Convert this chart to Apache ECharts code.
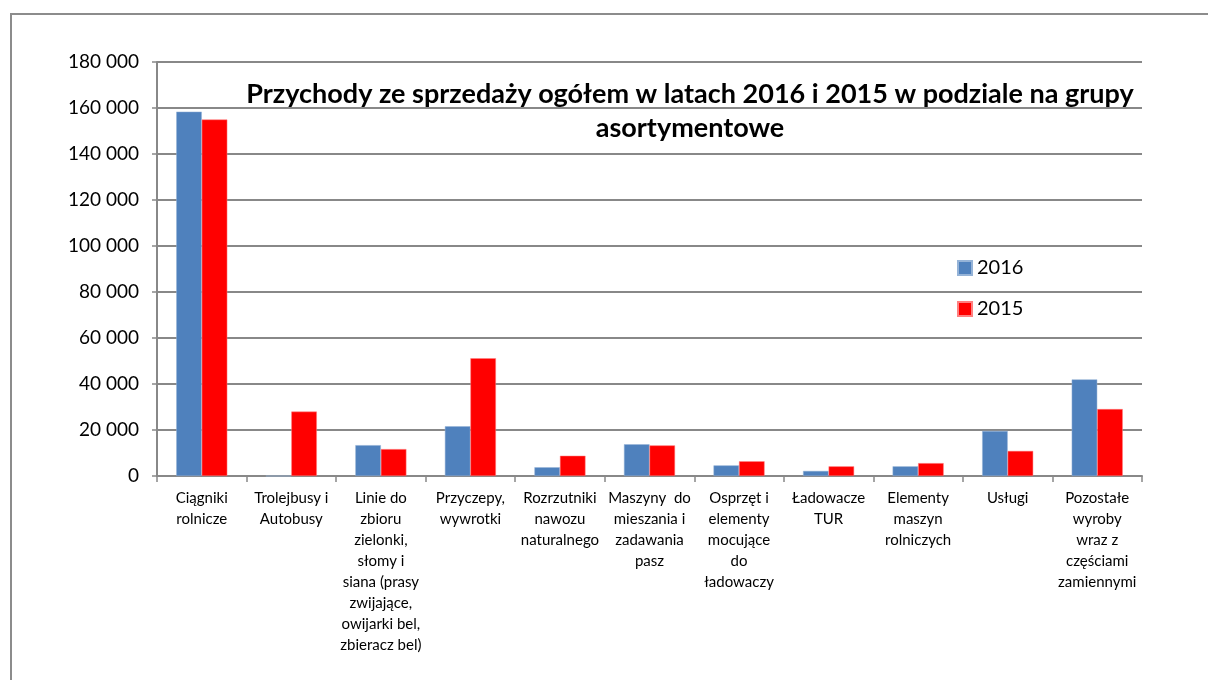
<!DOCTYPE html>
<html><head><meta charset="utf-8">
<script src="https://cdn.jsdelivr.net/npm/echarts@6/dist/echarts.min.js"></script>
<style>html,body{margin:0;padding:0;background:#fff}#c{width:1208px;height:680px}</style>
</head><body><div id="c"></div>
<script>
const categories = [
  "Ciągniki\nrolnicze",
  "Trolejbusy i\nAutobusy",
  "Linie do\nzbioru\nzielonki,\nsłomy i\nsiana (prasy\nzwijające,\nowijarki bel,\nzbieracz bel)",
  "Przyczepy,\nwywrotki",
  "Rozrzutniki\nnawozu\nnaturalnego",
  "Maszyny  do\nmieszania i\nzadawania\npasz",
  "Osprzęt i\nelementy\nmocujące\ndo\nładowaczy",
  "Ładowacze\nTUR",
  "Elementy\nmaszyn\nrolniczych",
  "Usługi",
  "Pozostałe\nwyroby\nwraz z\nczęściami\nzamiennymi"
];
const values2016 = [158400, 0, 13400, 21600, 3800, 13800, 4600, 2200, 4200, 19600, 42000];
const values2015 = [155000, 28000, 11700, 51200, 8800, 13300, 6400, 4200, 5600, 10900, 29100];
const seriesNames = ["2016", "2015"];
const titleText = "Przychody ze sprzedaży ogółem w latach 2016 i 2015 w podziale na grupy\nasortymentowe";

const FONT = "Lato, 'Open Sans', sans-serif";
const chart = echarts.init(document.getElementById('c'));
chart.setOption({
  backgroundColor: '#fff',
  animation: false,
  graphic: [{
    type: 'rect', shape: {x: 11, y: 14, width: 1230, height: 700},
    style: {fill: 'none', stroke: '#8c8c8c', lineWidth: 2}, z: -1, silent: true
  }],
  title: {
    text: titleText, left: 685, top: 72, textAlign: 'center',
    textStyle: {fontFamily: FONT, fontWeight: 'bold', fontSize: 27, color: '#000', lineHeight: 34, align: 'center'}
  },
  legend: {
    orient: 'vertical', left: 952, top: 253, itemWidth: 14, itemHeight: 14, itemGap: 21,
    icon: 'rect',
    textStyle: {fontFamily: FONT, fontSize: 20, color: '#000'},
    data: seriesNames
  },
  grid: {left: 157, top: 62, right: 66, bottom: 204, containLabel: false},
  xAxis: {
    type: 'category', data: categories,
    axisLine: {lineStyle: {color: '#888', width: 2}},
    axisTick: {show: true, length: 6, lineStyle: {color: '#888', width: 1.5}},
    axisLabel: {interval: 0, fontFamily: FONT, fontSize: 15, color: '#000', lineHeight: 21, margin: 12, align: 'center'}
  },
  yAxis: {
    type: 'value', min: 0, max: 180000, interval: 20000,
    axisLine: {show: true, lineStyle: {color: '#888', width: 2}},
    axisTick: {show: true, length: 5, lineStyle: {color: '#888', width: 1.5}},
    splitLine: {lineStyle: {color: '#888', width: 2}},
    axisLabel: {
      fontFamily: FONT, fontSize: 19, color: '#000', margin: 18,
      formatter: v => String(v).replace(/\B(?=(\d{3})+(?!\d))/g, ' ')
    }
  },
  series: [
    {name: seriesNames[0], type: 'bar', data: values2016, barGap: '0%', barCategoryGap: '43%',
     itemStyle: {color: '#4f81bd', borderColor: '#95b3d7', borderWidth: 0.5}},
    {name: seriesNames[1], type: 'bar', data: values2015, barGap: '0%', barCategoryGap: '43%',
     itemStyle: {color: '#ff0000', borderColor: '#ff8080', borderWidth: 0.5}}
  ]
});
</script></body></html>
